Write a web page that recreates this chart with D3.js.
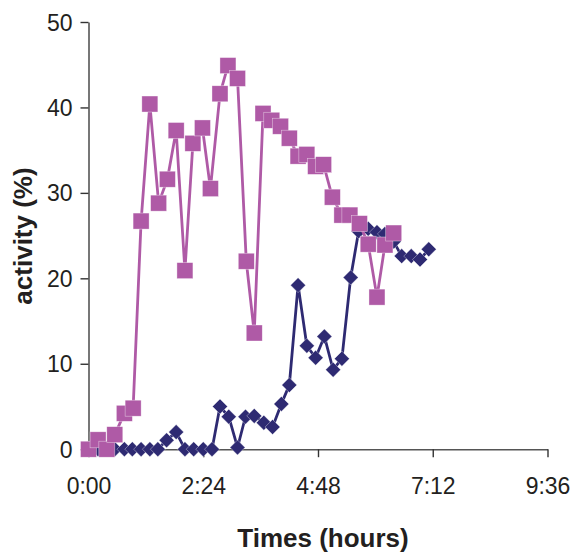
<!DOCTYPE html>
<html>
<head>
<meta charset="utf-8">
<script src="https://cdn.jsdelivr.net/npm/d3@7"></script>
<style>
  html, body { margin: 0; padding: 0; background: #fff; }
  svg { display: block; }
  text { font-family: "Liberation Sans", Arial, sans-serif; }
</style>
</head>
<body>
<svg id="chart" width="573" height="554"></svg>
<script>
// Time in minutes since 0:00
const pinkTimes = [0, 12, 23, 33, 45, 56, 66, 77, 88, 99, 110, 121, 131, 143, 153, 165, 175, 187,
  198, 208, 219, 230, 241, 252, 263, 274, 285, 295, 306, 318, 328, 340, 351, 362, 372, 383];
const pinkValues = [0, 1.1, 0, 1.7, 4.2, 4.8, 26.7, 40.4, 28.8, 31.6, 37.3, 20.9, 35.8, 37.6, 30.5, 41.6,
  44.9, 43.4, 22.0, 13.6, 39.3, 38.5, 37.8, 36.4, 34.3, 34.5, 33.1, 33.3, 29.5, 27.4, 27.4, 26.4, 24.0,
  17.8, 23.9, 25.3];

const navyTimes = [0, 12, 23, 33, 45, 55, 66, 77, 87, 98, 110, 121, 132, 144, 155, 165, 176, 187, 197,
  208, 220, 231, 242, 252, 263, 274, 285, 296, 307, 318, 329, 339, 351, 362, 372, 383, 393, 405, 416, 427];
const navyValues = [0, 0, 0, 0, 0, 0, 0, 0, 0, 1.05, 2.0, 0, 0, 0, 0, 5.0, 3.8, 0.2, 3.8, 3.9, 3.1, 2.6,
  5.3, 7.5, 19.2, 12.1, 10.7, 13.2, 9.3, 10.6, 20.1, 25.5, 25.8, 25.4, 25.2, 24.3, 22.6, 22.6, 22.2, 23.4];

const xTickValues = [0, 144, 288, 432, 576];
const xTickLabels = ["0:00", "2:24", "4:48", "7:12", "9:36"];
const yTickValues = [0, 10, 20, 30, 40, 50];

const pinkColor = "#AF5AA6";
const navyColor = "#2E2A72";

const svg = d3.select("#chart");
const x = d3.scaleLinear().domain([0, 576]).range([88.5, 547.5]);
const y = d3.scaleLinear().domain([0, 50]).range([449.2, 22]);

// axes
const xAxis = d3.axisBottom(x).tickValues(xTickValues)
  .tickFormat((d, i) => xTickLabels[i]).tickSizeInner(8).tickSizeOuter(0).tickPadding(20);
const yAxis = d3.axisLeft(y).tickValues(yTickValues).tickSizeInner(8).tickSizeOuter(0).tickPadding(8);

const gx = svg.append("g").attr("transform", `translate(0,${y(0)})`).call(xAxis);
const gy = svg.append("g").attr("transform", `translate(${x(0)},0)`).call(yAxis);
[gx, gy].forEach(g => {
  g.select(".domain").attr("stroke", "#555").attr("stroke-width", 1.6);
  g.selectAll(".tick line").attr("stroke", "#333").attr("stroke-width", 1.4);
  g.selectAll(".tick text").attr("fill", "#231f20").style("font-size", "23px")
    .style("font-family", "'Liberation Sans', Arial, sans-serif");
});
gy.selectAll(".tick text").attr("dy", "0.35em");
gx.selectAll(".tick text").attr("dy", "0.71em");

// navy series
const line = d3.line();
const navyPts = navyTimes.map((t, i) => [x(t), y(navyValues[i])]);
svg.append("path").attr("d", line(navyPts)).attr("fill", "none")
  .attr("stroke", navyColor).attr("stroke-width", 2.8).attr("stroke-linejoin", "round");
svg.append("g").selectAll("path").data(navyPts).join("path")
  .attr("d", d => `M${d[0]},${d[1] - 7.5}L${d[0] + 7.5},${d[1]}L${d[0]},${d[1] + 7.5}L${d[0] - 7.5},${d[1]}Z`)
  .attr("fill", navyColor).attr("stroke", "#fff").attr("stroke-width", 0.6).attr("stroke-opacity", 0.6);

// pink series
const pinkPts = pinkTimes.map((t, i) => [x(t), y(pinkValues[i])]);
svg.append("path").attr("d", line(pinkPts)).attr("fill", "none")
  .attr("stroke", pinkColor).attr("stroke-width", 2.8).attr("stroke-linejoin", "round");
svg.append("g").selectAll("rect").data(pinkPts).join("rect")
  .attr("x", d => d[0] - 8).attr("y", d => d[1] - 8).attr("width", 16).attr("height", 16)
  .attr("fill", pinkColor).attr("stroke", "#fff").attr("stroke-width", 0.6).attr("stroke-opacity", 0.6);

// axis titles
svg.append("text").attr("x", 323).attr("y", 547).attr("text-anchor", "middle")
  .style("font-size", "26px").style("font-weight", "bold").attr("fill", "#231f20")
  .text("Times (hours)");
svg.append("text").attr("transform", "translate(32,236) rotate(-90)").attr("text-anchor", "middle")
  .style("font-size", "26px").style("font-weight", "bold").attr("fill", "#231f20")
  .text("activity (%)");
</script>
</body>
</html>
